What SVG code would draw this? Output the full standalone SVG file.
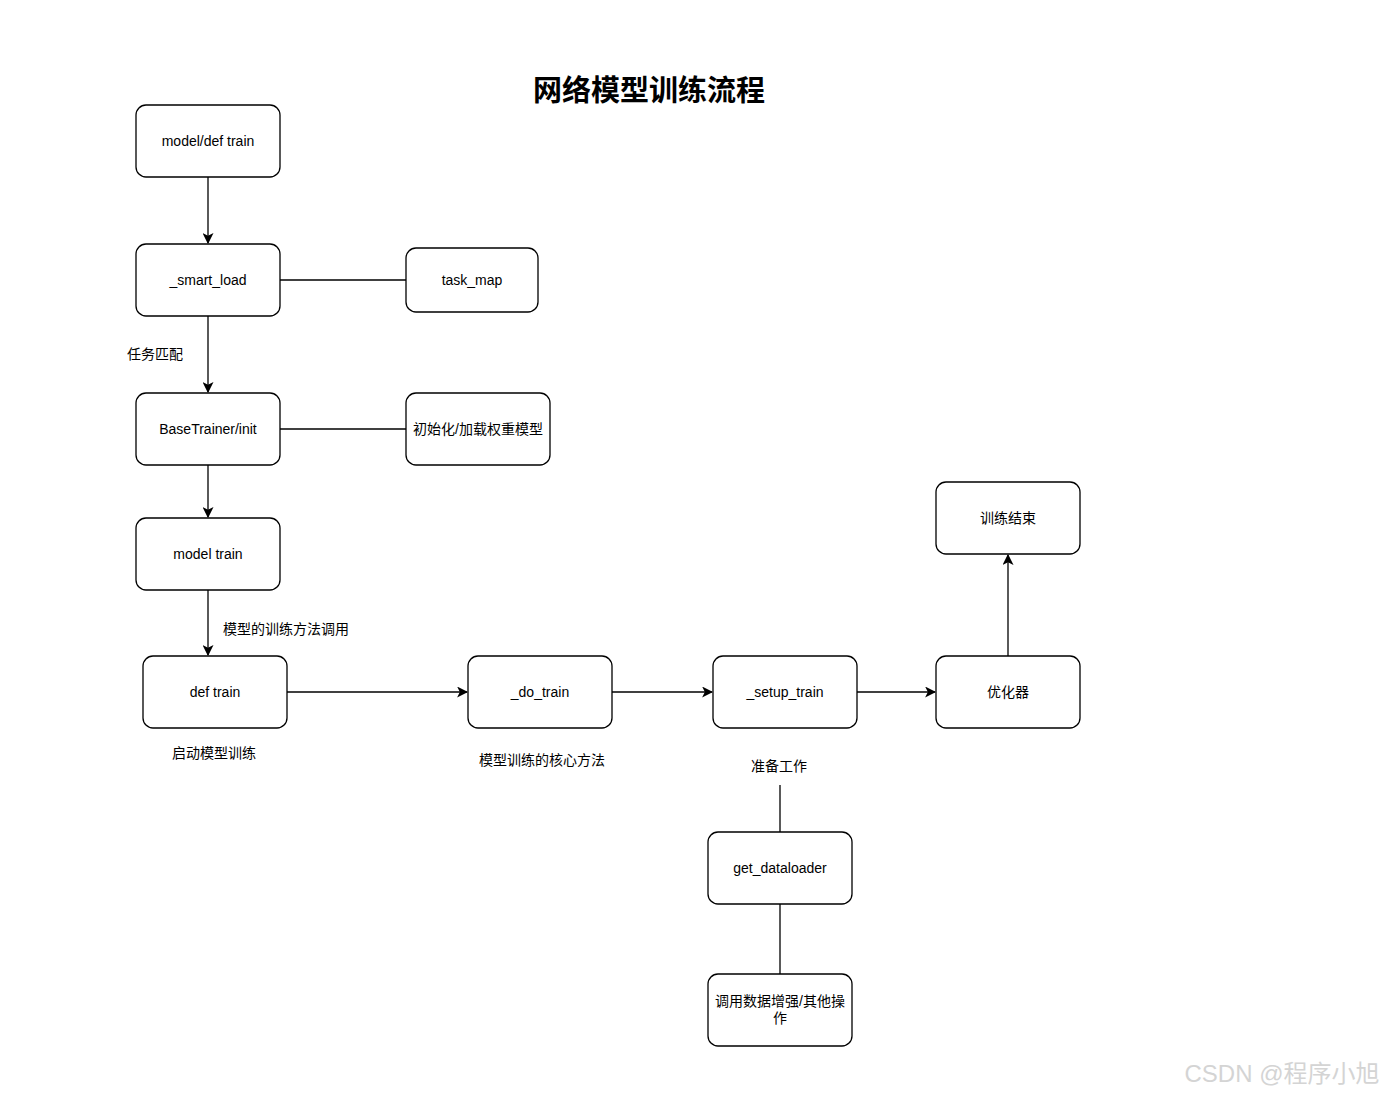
<svg xmlns="http://www.w3.org/2000/svg" width="1390" height="1095" viewBox="0 0 1390 1095">
<defs>
<marker id="arr" viewBox="0 0 10 10" refX="9" refY="5" markerWidth="11" markerHeight="11" markerUnits="userSpaceOnUse" orient="auto">
<path d="M0,0 L10,5 L0,10 L2.5,5 Z" fill="#000"/>
</marker>
<style>
.n rect{fill:#fff;stroke:#000;stroke-width:1.3}
.n text,.lbl{font-family:"Liberation Sans","Noto Sans CJK SC",sans-serif;font-size:14px;fill:#000;text-anchor:middle;dominant-baseline:central}
.e{stroke:#000;stroke-width:1.3;fill:none}
.a{marker-end:url(#arr)}
</style>
</defs>
<rect width="1390" height="1095" fill="#fff"/>
<text x="649" y="91" font-family="'Liberation Sans','Noto Sans CJK SC',sans-serif" font-size="29" font-weight="bold" text-anchor="middle" dominant-baseline="central">网络模型训练流程</text>
<g id="connectors">
<line class="e a" x1="208" y1="177" x2="208" y2="243"/>
<line class="e" x1="280" y1="280" x2="406" y2="280"/>
<line class="e a" x1="208" y1="316" x2="208" y2="392"/>
<line class="e" x1="280" y1="429" x2="406" y2="429"/>
<line class="e a" x1="208" y1="465" x2="208" y2="517"/>
<line class="e a" x1="208" y1="590" x2="208" y2="655"/>
<line class="e a" x1="287" y1="692" x2="467" y2="692"/>
<line class="e a" x1="612" y1="692" x2="712" y2="692"/>
<line class="e a" x1="857" y1="692" x2="935" y2="692"/>
<line class="e a" x1="1008" y1="656" x2="1008" y2="555"/>
<line class="e" x1="780" y1="785" x2="780" y2="832"/>
<line class="e" x1="780" y1="904" x2="780" y2="974"/>
</g>
<g id="n1" class="n"><rect x="136" y="105" width="144" height="72" rx="10"/><text x="208" y="141">model/def train</text></g>
<g id="n2" class="n"><rect x="136" y="244" width="144" height="72" rx="10"/><text x="208" y="280">_smart_load</text></g>
<g id="n3" class="n"><rect x="406" y="248" width="132" height="64" rx="10"/><text x="472" y="280">task_map</text></g>
<g id="n4" class="n"><rect x="136" y="393" width="144" height="72" rx="10"/><text x="208" y="429">BaseTrainer/init</text></g>
<g id="n5" class="n"><rect x="406" y="393" width="144" height="72" rx="10"/><text x="478" y="429">初始化/加载权重模型</text></g>
<g id="n6" class="n"><rect x="136" y="518" width="144" height="72" rx="10"/><text x="208" y="554">model train</text></g>
<g id="n7" class="n"><rect x="143" y="656" width="144" height="72" rx="10"/><text x="215" y="692">def train</text></g>
<g id="n8" class="n"><rect x="468" y="656" width="144" height="72" rx="10"/><text x="540" y="692">_do_train</text></g>
<g id="n9" class="n"><rect x="713" y="656" width="144" height="72" rx="10"/><text x="785" y="692">_setup_train</text></g>
<g id="n10" class="n"><rect x="936" y="656" width="144" height="72" rx="10"/><text x="1008" y="692">优化器</text></g>
<g id="n11" class="n"><rect x="936" y="482" width="144" height="72" rx="10"/><text x="1008" y="518">训练结束</text></g>
<g id="n12" class="n"><rect x="708" y="832" width="144" height="72" rx="10"/><text x="780" y="868">get_dataloader</text></g>
<g id="n13" class="n"><rect x="708" y="974" width="144" height="72" rx="10"/><text x="780" y="1001">调用数据增强/其他操</text><text x="780" y="1018">作</text></g>
<g id="labels">
<text class="lbl" x="155" y="354">任务匹配</text>
<text class="lbl" x="286" y="629">模型的训练方法调用</text>
<text class="lbl" x="214" y="753">启动模型训练</text>
<text class="lbl" x="542" y="760">模型训练的核心方法</text>
<text class="lbl" x="779" y="766">准备工作</text>
</g>
<text x="1282" y="1073" font-family="'Liberation Sans','Noto Sans CJK SC',sans-serif" font-size="24" fill="#d4d4d4" text-anchor="middle" dominant-baseline="central">CSDN @程序小旭</text>
</svg>
